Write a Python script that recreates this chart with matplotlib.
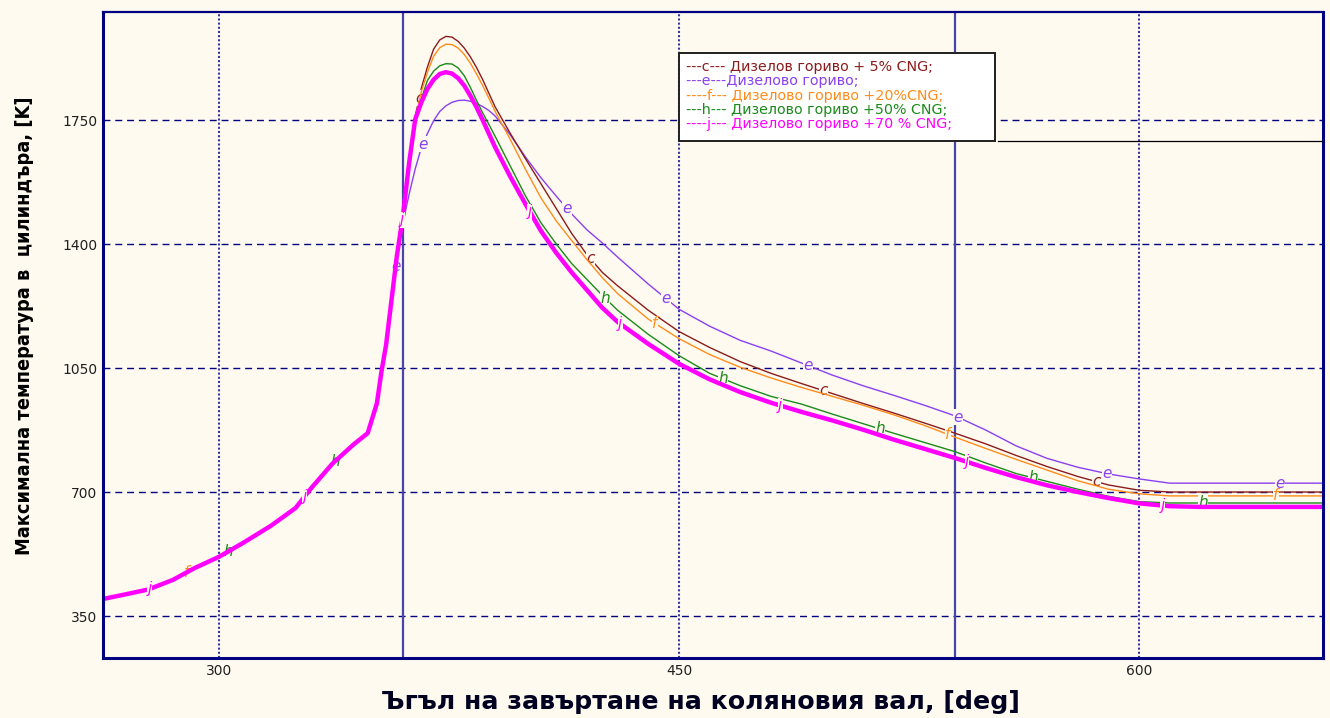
import numpy as np
import matplotlib
matplotlib.use("Agg")
import matplotlib.pyplot as plt
import matplotlib.font_manager as fm
from matplotlib.patches import Rectangle
from matplotlib.lines import Line2D

plt.rcParams['lines.scale_dashes'] = False

# ---------------- data ----------------
# shared compression part (all fuels coincide)
compression_deg = [262.2, 270, 277, 285, 292, 300, 308, 317, 325, 330, 337, 344,
                   348.5, 351.5, 353, 354.5, 356.5, 358]
compression_T = [398, 412, 425, 452, 485, 517, 557, 605, 655, 710, 780, 835,
                 866, 950, 1040, 1115, 1258, 1365]

# combustion / expansion part
comb_deg = [360, 362, 364, 366, 368, 370, 372, 374, 376, 378,
            380, 382, 384, 386, 388, 390, 395, 400, 405, 410,
            415, 420, 425, 430, 440, 450, 460, 470, 480, 490,
            500, 510, 520, 530, 540, 550, 560, 570, 580, 590,
            600, 610, 620, 660]

T_c = [1480, 1640, 1760, 1840, 1900, 1950, 1976, 1986, 1984, 1972,
       1953, 1928, 1898, 1864, 1826, 1788, 1712, 1640, 1570, 1500,
       1430, 1370, 1320, 1282, 1213, 1153, 1108, 1068, 1035, 1006,
       978, 950, 923, 895, 866, 836, 803, 772, 744, 720,
       705, 700, 700, 700]
T_e = [1460, 1540, 1612, 1672, 1712, 1748, 1774, 1790, 1800, 1805,
       1806, 1803, 1797, 1788, 1777, 1762, 1708, 1645, 1587, 1535,
       1485, 1440, 1403, 1363, 1287, 1216, 1168, 1128, 1098, 1064,
       1030, 1000, 973, 945, 915, 875, 830, 795, 770, 751,
       737, 725, 725, 725]
T_f = [1480, 1640, 1750, 1830, 1885, 1930, 1954, 1964, 1963, 1953,
       1935, 1910, 1880, 1847, 1812, 1775, 1695, 1610, 1530, 1465,
       1410, 1356, 1305, 1260, 1188, 1133, 1088, 1052, 1022, 995,
       970, 945, 918, 888, 855, 823, 792, 762, 732, 708,
       695, 689, 689, 689]
T_h = [1480, 1640, 1740, 1810, 1862, 1888, 1903, 1909, 1908, 1897,
       1875, 1842, 1805, 1770, 1738, 1705, 1620, 1535, 1460, 1400,
       1345, 1300, 1255, 1213, 1145, 1085, 1035, 1000, 970, 948,
       920, 893, 866, 840, 814, 782, 752, 730, 708, 688,
       673, 669, 669, 669]
T_j = [1480, 1628, 1752, 1800, 1838, 1864, 1880, 1885, 1881, 1868,
       1847, 1818, 1786, 1750, 1712, 1674, 1590, 1512, 1437, 1375,
       1320, 1270, 1220, 1180, 1118, 1062, 1018, 982, 952, 926,
       902, 876, 848, 822, 796, 768, 742, 719, 700, 683,
       668, 660, 658, 658]

legend_texts = ["---c--- Дизелов гориво + 5% CNG;",
                "---e---Дизелово гориво;",
                "----f--- Дизелово гориво +20%CNG;",
                "---h--- Дизелово гориво +50% CNG;",
                "----j--- Дизелово гориво +70 % CNG;"]

x_ticks = [300, 450, 600]
y_ticks = [350, 700, 1050, 1400, 1750]
tdc_lines = [360, 540]

# ---------------- styling ----------------
BG = '#FFFAF0'
NAVY = '#000080'
colors = {'c': '#8B1C1C', 'e': '#8A40F0', 'f': '#FF8C1A', 'h': '#1A8A1A', 'j': '#FF00FF'}
widths = {'c': 1.0, 'e': 1.0, 'f': 1.0, 'h': 1.0, 'j': 3.2}
label_pos = {
    'e': [357.6, 366.5, 413.5, 445.8, 492, 541, 589.6, 646],
    'c': [365.3, 421, 497, 586],
    'f': [289.5, 442.2, 537.7, 644.7],
    'h': [303, 337.8, 425.9, 464.3, 515.5, 565.4, 620.9],
    'j': [277.5, 328, 359.8, 401.4, 430.8, 483, 543.9, 607.8],
}


def pick_narrow_font():
    best = None
    for f in fm.fontManager.ttflist:
        nm = f.name.lower()
        st = str(f.stretch).lower()
        narrow = ('narrow' in nm or 'condensed' in nm or 'condensed' in st
                  or (isinstance(f.stretch, int) and f.stretch < 500))
        if not narrow or 'semi' in nm or 'extra' in nm or 'ultra' in nm:
            continue
        if 'mono' in nm or 'serif' in nm and 'sans' not in nm:
            continue
        if f.style != 'normal':
            continue
        w = f.weight if isinstance(f.weight, int) else (700 if 'bold' in str(f.weight) else 400)
        score = abs(w - 700)
        if best is None or score < best[0]:
            best = (score, f.fname)
    if best:
        return fm.FontProperties(fname=best[1])
    return fm.FontProperties(family='Roboto', weight='bold')


fig = plt.figure(figsize=(13.3, 7.18), dpi=100, facecolor=BG)
ax = fig.add_axes([103/1330, 60/718, 1220/1330, 646.3/718], facecolor=BG)
ax.set_xlim(262.2, 660.0)
ax.set_ylim(231.5, 2055.7)

# grid
for yv in y_ticks:
    ax.axhline(yv, color=NAVY, lw=1.0, ls=(0, (5, 3.5)), zorder=1)
for xv in x_ticks:
    ax.axvline(xv, color='#3535A5', lw=1.5, ls=(0, (1.5, 1.5)), zorder=1)
for xv in tdc_lines:
    ax.axvline(xv, color='#4646A8', lw=1.6, zorder=1.5)

series = [('e', T_e), ('c', T_c), ('f', T_f), ('h', T_h), ('j', T_j)]
for i, (name, T) in enumerate(series):
    x = np.array(compression_deg + comb_deg, dtype=float)
    y = np.array(compression_T + T, dtype=float)
    z = 3 + i
    ax.plot(x, y, color=colors[name], lw=widths[name], zorder=z,
            solid_joinstyle='round')
    for d in label_pos[name]:
        ax.text(d, np.interp(d, x, y), name, color=colors[name], fontsize=11,
                style='italic', ha='center', va='center', zorder=z + 0.5,
                bbox=dict(boxstyle='square,pad=0.02', fc=BG, ec='none'))

# frame
for s in ax.spines.values():
    s.set_color(NAVY)
    s.set_linewidth(2.2)
    s.set_zorder(20)
ax.spines['top'].set_linewidth(1.6)

ax.set_xticks(x_ticks)
ax.set_yticks(y_ticks)
ax.tick_params(length=0, pad=4, labelsize=10, labelcolor='#202020')

# legend box
lx0, lx1 = (679 - 103) / 1220, (995 - 103) / 1220
ly0, ly1 = (658 - 141) / 646.3, (658 - 53) / 646.3
ax.add_patch(Rectangle((lx0, ly0), lx1 - lx0, ly1 - ly0, transform=ax.transAxes,
                       fc='white', ec='#202020', lw=1.4, zorder=30))
ax.add_line(Line2D([(998 - 103) / 1220, 1.0], [ly0, ly0], transform=ax.transAxes,
                   color='black', lw=0.9, zorder=30))
row_y = [67, 81.3, 95.6, 110, 124.3]
for txt, name, ry in zip(legend_texts, ['c', 'e', 'f', 'h', 'j'], row_y):
    ax.text((686 - 103) / 1220, (658 - ry) / 646.3, txt,
            transform=ax.transAxes, color=colors[name], fontsize=10.3,
            family='DejaVu Sans', ha='left', va='center', zorder=31)

# axis labels
xl = fig.text(700 / 1330, 1 - 702 / 718, "Ъгъл на завъртане на коляновия вал, [deg]",
              ha='center', va='center', fontsize=18, fontweight='bold', color='#000020')
yfp = pick_narrow_font()
yfp.set_size(18)
yl = fig.text(25 / 1330, 1 - 326 / 718, "Максимална температура в  цилиндъра, [K]",
              ha='center', va='center', rotation=90, fontproperties=yfp, color='black')

# fit axis-label lengths to the reference
fig.canvas.draw()
rend = fig.canvas.get_renderer()
xl.set_fontsize(xl.get_fontsize() * 640.0 / xl.get_window_extent(rend).width)
yl.set_fontsize(yl.get_fontsize() * 458.0 / yl.get_window_extent(rend).height)

fig.savefig('out.png', dpi=100, facecolor=BG)
